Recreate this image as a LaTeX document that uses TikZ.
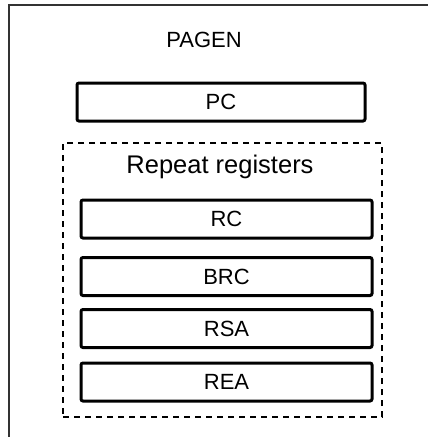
\documentclass[tikz,border=0pt]{standalone}
\usepackage{fontspec}
\setmainfont{Liberation Sans}
\usetikzlibrary{positioning}

\begin{document}
\begin{tikzpicture}[x=1pt,y=-1pt,
    reg/.style={draw,line width=3pt,rounded corners=2pt,minimum height=38pt,inner sep=0pt,
      font=\fontsize{22}{26}\selectfont,text height=15.5pt,text depth=0pt},
    group/.style={draw,dashed,line width=2pt,dash pattern=on 6pt off 5pt,minimum width=319pt,minimum height=274pt,inner sep=0pt}]
  \useasboundingbox (0,0) rectangle (429,437);
  % ---------------- page frame ----------------
  \coordinate (fl) at (9,437);
  \coordinate (ft) at (9,5);
  \coordinate (fr) at (428,5);
  \draw[line width=1.5pt,black!80] (fl) -- (ft) -- (fr);
  \node[anchor=base,font=\fontsize{22}{26}\selectfont] (pagen) at (204,47) {PAGEN};
  \node[reg,minimum width=288pt] (pc) at (221,102) {PC};
  % ---------------- repeat registers ----------------
  \node[group] (rep) at (222.5,280) {};
  \node[anchor=base,font=\fontsize{25.5}{30}\selectfont] (reptitle) at (220,173) {Repeat registers};
  \node[reg,minimum width=291pt] (rc) at (226.5,219) {RC};
  \node[reg,minimum width=291pt] (brc) at (226.5,276.5) {BRC};
  \node[reg,minimum width=291pt] (rsa) at (226.5,328.5) {RSA};
  \node[reg,minimum width=291pt] (rea) at (226.5,382) {REA};
\end{tikzpicture}
\end{document}
